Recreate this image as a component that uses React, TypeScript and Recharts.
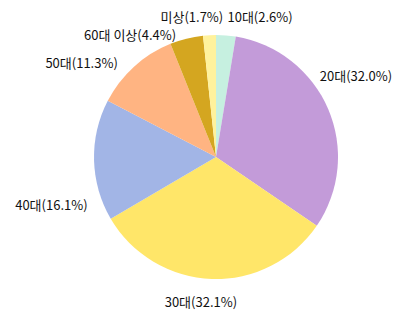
import { PieChart, Pie, Cell } from 'recharts';

// age groups, clockwise from 12 o'clock
const groups = ['10대', '20대', '30대', '40대', '50대', '60대 이상', '미상'];
const shares = [2.6, 32.0, 32.1, 16.1, 11.3, 4.4, 1.7];
const colors = ['#c6f0e0', '#c39bd9', '#ffe669', '#a2b5e6', '#ffb482', '#d4a620', '#fff29c'];

// labels are nudged a bit like the original (avoid crowding)
const labelAngleShift = [0, 15, -4, 19, 4, 4, -6];
const labelGap = [19, 10, 23, 15, 14, 7, 19];

const data = groups.map((g, i) => ({ name: g, value: shares[i] }));

const RAD = Math.PI / 180;

const renderLabel = (props: any) => {
  const { cx, cy, outerRadius, midAngle, index } = props;
  const ang = midAngle + labelAngleShift[index];
  const r = outerRadius + labelGap[index];
  const x = cx + r * Math.cos(-ang * RAD);
  const y = cy + r * Math.sin(-ang * RAD);
  // side decided by the slice's own middle, not the nudged one
  const c = Math.cos(-midAngle * RAD);
  const s = Math.sin(-midAngle * RAD);
  let anchor: 'start' | 'end' | 'middle' = c >= 0 ? 'start' : 'end';
  if (Math.abs(c) < 0.2 && s > 0) anchor = 'middle';
  return (
    <text
      x={x}
      y={y}
      textAnchor={anchor}
      dominantBaseline="central"
      fill="#111"
      fontSize={13}
      fontFamily='"Noto Sans CJK KR", "Noto Sans", sans-serif'
    >
      {`${groups[index]}(${shares[index].toFixed(1)}%)`}
    </text>
  );
};

export default function App() {
  return (
    <div style={{ position: 'absolute', left: 0, top: 0, width: 410, height: 316, background: '#fff' }}>
      <PieChart width={410} height={316} margin={{ top: 0, right: 0, bottom: 0, left: 0 }}>
        <Pie
          data={data}
          dataKey="value"
          nameKey="name"
          cx={216}
          cy={157}
          outerRadius={122}
          startAngle={90}
          endAngle={-270}
          stroke="none"
          label={renderLabel}
          labelLine={false}
          isAnimationActive={false}
        >
          {data.map((d, i) => (
            <Cell key={d.name} fill={colors[i]} />
          ))}
        </Pie>
      </PieChart>
    </div>
  );
}
